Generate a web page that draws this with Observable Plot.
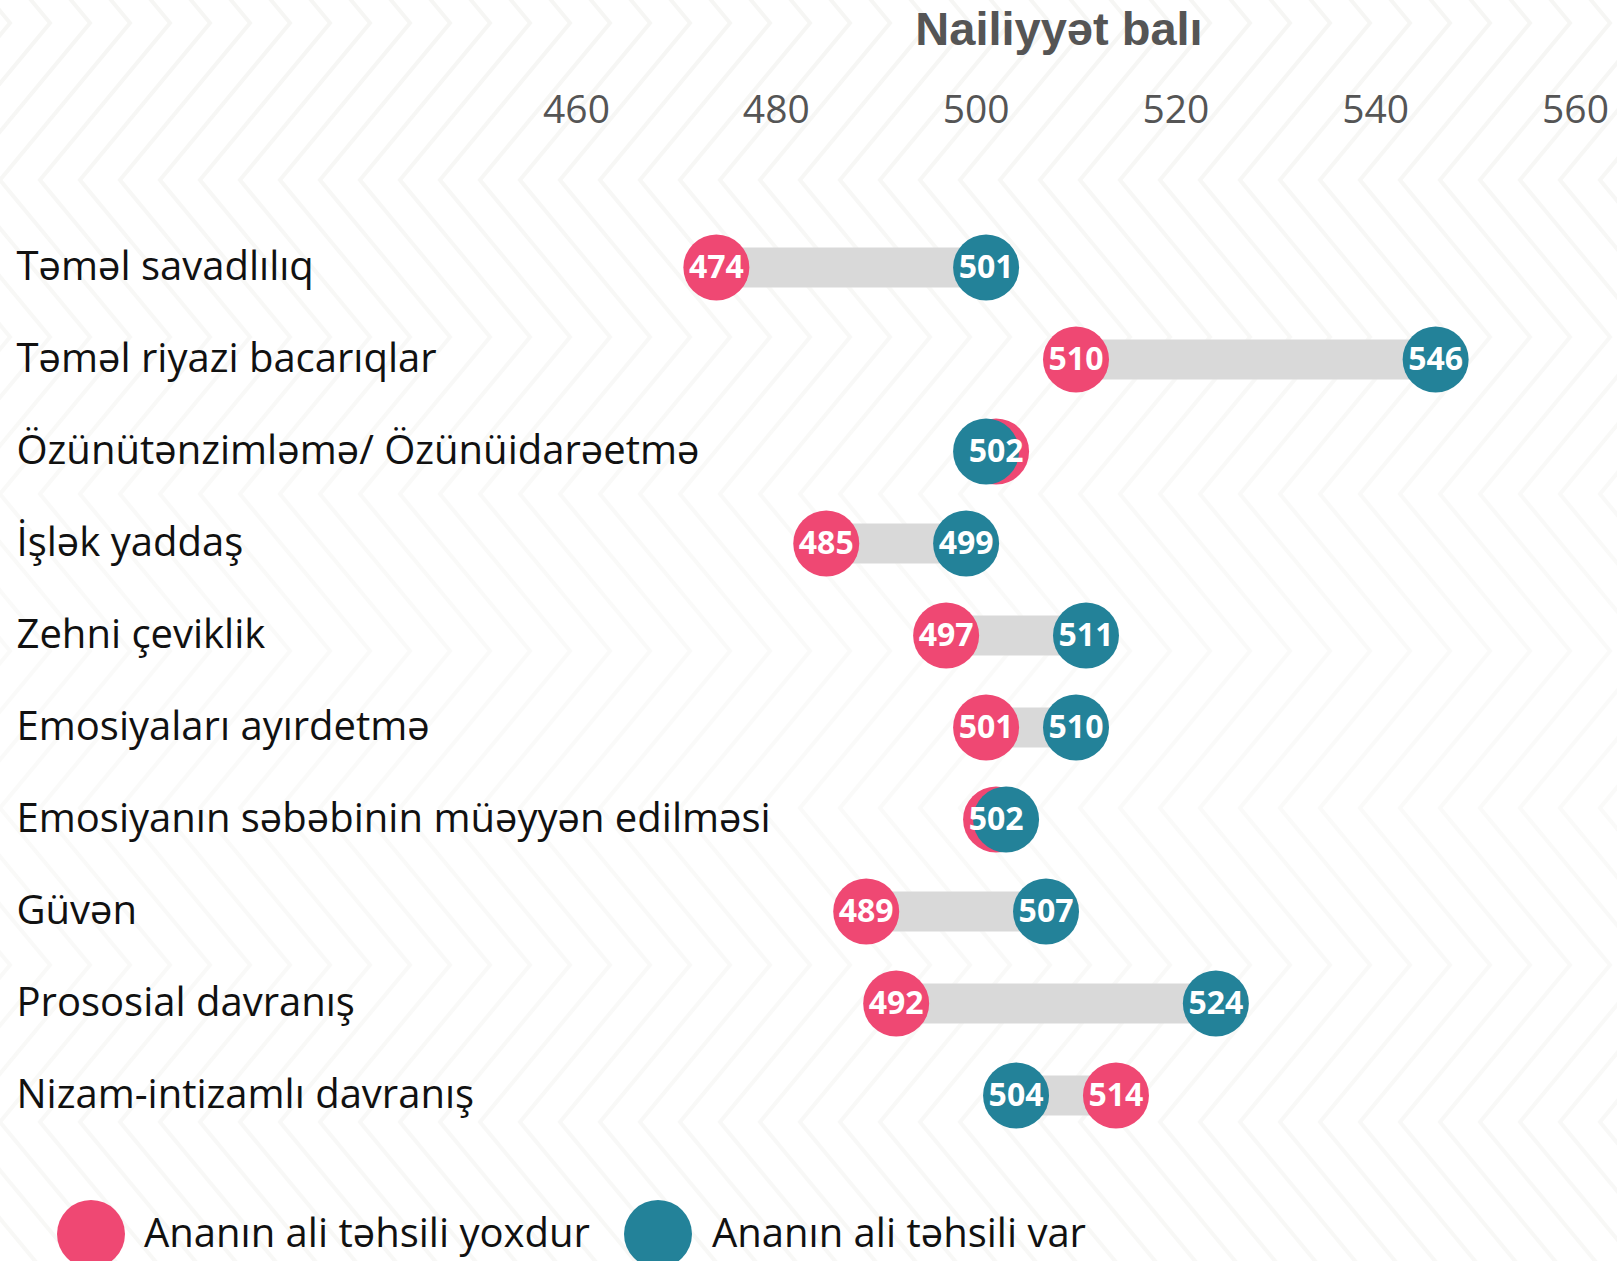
<!DOCTYPE html>
<html>
<head>
<meta charset="utf-8">
<script src="https://cdn.jsdelivr.net/npm/d3@7"></script>
<script src="https://cdn.jsdelivr.net/npm/@observablehq/plot@0.6"></script>
<style>
  html, body { margin: 0; padding: 0; background: #ffffff; }
  #page { position: relative; width: 1617px; height: 1261px; overflow: hidden; }
  #bg { position: absolute; left: 0; top: 0; width: 1617px; height: 1261px; }
  #title { position: absolute; left: 809px; width: 500px; top: 5px; text-align: center;
    font-family: "Liberation Sans", Arial, sans-serif; font-weight: bold; font-size: 47px;
    line-height: 47px; color: #555555; }
  #chart { position: absolute; left: 0; top: 0; }
  .leg-dot { position: absolute; width: 68px; height: 68px; border-radius: 50%; }
  .leg-text { position: absolute; font-family: "Open Sans", sans-serif; font-size: 40px; line-height: 44px; color: #111; white-space: nowrap; }
</style>
</head>
<body>
<div id="page">
  <svg id="bg" width="1617" height="1261"></svg>
  <div id="title">Nailiyyət balı</div>
  <div id="chart"></div>
  <div id="legend"></div>
</div>
<script>
// ---- data ----
const categories = [
  "Təməl savadlılıq",
  "Təməl riyazi bacarıqlar",
  "Özünütənzimləmə/ Özünüidarəetmə",
  "İşlək yaddaş",
  "Zehni çeviklik",
  "Emosiyaları ayırdetmə",
  "Emosiyanın səbəbinin müəyyən edilməsi",
  "Güvən",
  "Prososial davranış",
  "Nizam-intizamlı davranış"
];
const noHigherEd = [474, 510, 502, 485, 497, 501, 502, 489, 492, 514];
const higherEd   = [501, 546, 501, 499, 511, 510, 503, 507, 524, 504];
const xTicks = [460, 480, 500, 520, 540, 560];
const seriesNames = ["Ananın ali təhsili yoxdur", "Ananın ali təhsili var"];
const colors = ["#ef4873", "#238299"];

const data = categories.map((c, i) => ({cat: c, a: noHigherEd[i], b: higherEd[i]}));

// ---- faint chevron background (decoration) ----
(function(){
  const bg = document.getElementById("bg");
  let s = '<defs><pattern id="chev" patternUnits="userSpaceOnUse" width="40" height="314" y="0">';
  for (let k = -5; k <= 2; k++) {
    const o = k * 40;
    s += `<polyline points="${o},-134 ${o+130},23 ${o},180 ${o+130},337 ${o},494" fill="none" stroke="#f6f6f4" stroke-width="4"/>`;
  }
  s += '</pattern><linearGradient id="fade" x1="0" y1="0" x2="0" y2="1">' +
       '<stop offset="0" stop-color="#fff" stop-opacity="0"/><stop offset="0.55" stop-color="#fff" stop-opacity="0.5"/><stop offset="1" stop-color="#fff" stop-opacity="0.2"/></linearGradient></defs>';
  s += '<rect width="1617" height="1261" fill="url(#chev)"/><rect width="1617" height="1261" fill="url(#fade)"/>';
  bg.innerHTML = s;
})();

// ---- chart ----
const labelFont = "'Open Sans', sans-serif";
const chart = Plot.plot({
  width: 1617,
  height: 1170,
  marginTop: 128,
  marginLeft: 0,
  marginRight: 0,
  marginBottom: 0,
  style: {background: "transparent", overflow: "visible", fontFamily: labelFont},
  x: {domain: [460, 560], range: [576, 1575]},
  y: {type: "point", domain: categories, range: [266, 1095], padding: 0, axis: null},
  marks: [
    Plot.axisX({anchor: "top", ticks: xTicks, tickSize: 0, tickPadding: 6, label: null,
      fontSize: 39, fill: "#555555", fontWeight: 400, tickFormat: d => String(d)}),
    Plot.ruleY(data, {y: "cat", x1: "a", x2: "b", stroke: "#d9d9d9", strokeWidth: 40}),
    Plot.dot(data, {x: "a", y: "cat", r: 33, fill: colors[0]}),
    Plot.dot(data, {x: "b", y: "cat", r: 33, fill: colors[1]}),
    Plot.text(data.filter(d => Math.abs(d.a - d.b) >= 5), {x: "b", y: "cat", text: d => String(d.b),
      fill: "white", fontWeight: "bold", fontSize: 32, fontFamily: labelFont}),
    Plot.text(data, {x: "a", y: "cat", text: d => String(d.a),
      fill: "white", fontWeight: "bold", fontSize: 32, fontFamily: labelFont}),
    Plot.text(data, {y: "cat", text: "cat", frameAnchor: "left", dx: 16, textAnchor: "start",
      fontSize: 40, fill: "#111", fontFamily: labelFont})
  ]
});
document.getElementById("chart").appendChild(chart);

// ---- legend ----
const legend = document.getElementById("legend");
const legPos = [{dot: 91, text: 144}, {dot: 658, text: 712}];
seriesNames.forEach((name, i) => {
  const d = document.createElement("div");
  d.className = "leg-dot";
  d.style.background = colors[i];
  d.style.left = (legPos[i].dot - 34) + "px";
  d.style.top = (1234 - 34) + "px";
  legend.appendChild(d);
  const t = document.createElement("div");
  t.className = "leg-text";
  t.textContent = name;
  t.style.left = legPos[i].text + "px";
  t.style.top = (1234 - 24) + "px";
  legend.appendChild(t);
});
</script>
</body>
</html>
